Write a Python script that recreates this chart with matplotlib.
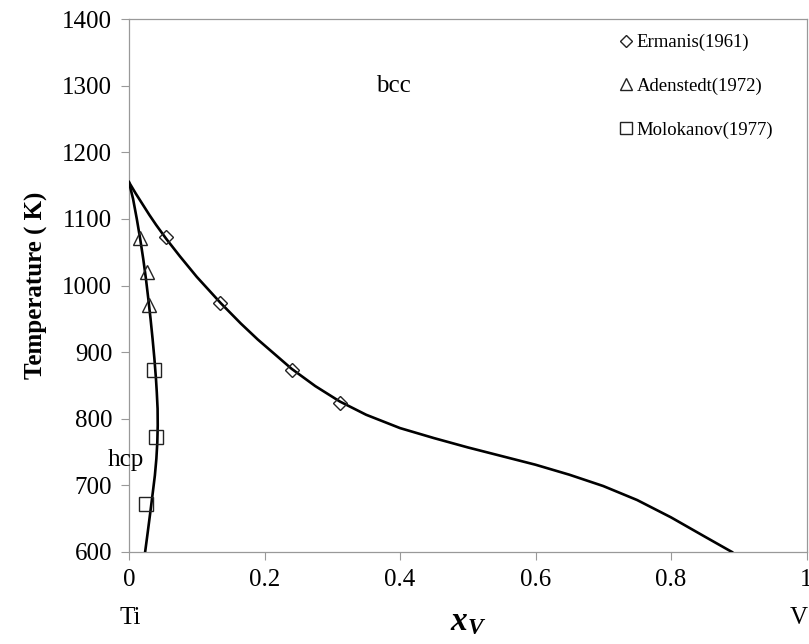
import matplotlib
matplotlib.use("Agg")
import matplotlib.pyplot as plt
from matplotlib.lines import Line2D

plt.rcParams['font.family'] = ['Liberation Serif', 'DejaVu Serif']
plt.rcParams['mathtext.fontset'] = 'custom'
plt.rcParams['mathtext.it'] = 'Liberation Serif:italic:bold'
plt.rcParams['mathtext.rm'] = 'Liberation Serif:bold'

# Data
ermanis_x = [0.055, 0.135, 0.240, 0.311]
ermanis_T = [1073, 973, 873, 823]
adenstedt_x = [0.016, 0.026, 0.030]
adenstedt_T = [1071, 1021, 971]
molokanov_x = [0.037, 0.040, 0.025]
molokanov_T = [873, 772, 672]

bcc_x = [0.0, 0.01, 0.02, 0.03, 0.04, 0.055, 0.075, 0.10, 0.135, 0.165, 0.19, 0.215, 0.24,
         0.275, 0.311, 0.35, 0.40, 0.45, 0.50, 0.55, 0.60, 0.65, 0.70, 0.75, 0.80, 0.85, 0.89]
bcc_T = [1155, 1138, 1122, 1106, 1091, 1070, 1044, 1013, 974, 943, 919, 897, 875,
         849, 826, 806, 786, 771, 757, 744, 731, 716, 699, 678, 652, 623, 600]
hcp_T = [1155, 1130, 1100, 1070, 1040, 1010, 980, 950, 920, 890, 860, 840, 815, 790,
         765, 740, 715, 690, 660, 630, 600]
hcp_x = [0.0, 0.006, 0.0115, 0.0165, 0.021, 0.025, 0.0285, 0.0318, 0.0348, 0.0375, 0.0398,
         0.041, 0.0422, 0.0424, 0.0418, 0.0404, 0.0382, 0.0352, 0.0315, 0.0277, 0.0238]

x_ticks = [0, 0.2, 0.4, 0.6, 0.8, 1.0]
x_ticklabels = ['0', '0.2', '0.4', '0.6', '0.8', '1']
y_ticks = [600, 700, 800, 900, 1000, 1100, 1200, 1300, 1400]

W, H = 809, 644
fig = plt.figure(figsize=(W / 100, H / 100), dpi=100)
ax = fig.add_axes([129 / W, 1 - 552 / H, (806.5 - 129) / W, (552 - 19) / H])

ax.plot(bcc_x, bcc_T, color='black', lw=1.9, zorder=3, solid_joinstyle='round')
ax.plot(hcp_x, hcp_T, color='black', lw=1.9, zorder=3, solid_joinstyle='round')

mec = '#222222'
ax.plot(ermanis_x, ermanis_T, linestyle='none', marker='D', ms=7, mfc='none', mec=mec, mew=1.0, zorder=4)
ax.plot(adenstedt_x, adenstedt_T, linestyle='none', marker='^', ms=10.5, mfc='none', mec=mec, mew=1.0, zorder=4)
ax.plot(molokanov_x, molokanov_T, linestyle='none', marker='s', ms=10, mfc='none', mec=mec, mew=1.0, zorder=4)

ax.set_xlim(0, 1)
ax.set_ylim(600, 1400)
ax.set_xticks(x_ticks)
ax.set_xticklabels(x_ticklabels)
ax.set_yticks(y_ticks)
ax.tick_params(axis='both', direction='out', length=6, width=0.8, color='#999999',
               labelsize=18, pad=6)
for s in ax.spines.values():
    s.set_color('#999999')
    s.set_linewidth(0.9)

ax.set_ylabel('Temperature ( K)', fontsize=18, fontweight='bold', labelpad=10)

ax.text(0.39, 1300, 'bcc', fontsize=18, ha='center', va='center')
ax.text(-0.005, 738, 'hcp', fontsize=18, ha='center', va='center', clip_on=False)

# composition end labels and x-label
fig.text(130 / W, 1 - 618 / H, 'Ti', fontsize=18, ha='center', va='center')
fig.text(799 / W, 1 - 618 / H, 'V', fontsize=18, ha='center', va='center')
fig.text(468 / W, 1 - 622 / H, r'$x_V$', fontsize=24, ha='center', va='center')

handles = [
    Line2D([], [], linestyle='none', marker='D', ms=6, mfc='none', mec=mec, mew=1.0),
    Line2D([], [], linestyle='none', marker='^', ms=8, mfc='none', mec=mec, mew=1.0),
    Line2D([], [], linestyle='none', marker='s', ms=9, mfc='none', mec=mec, mew=1.0),
]
labels = ['Ermanis(1961)', 'Adenstedt(1972)', 'Molokanov(1977)']
leg = ax.legend(handles, labels, loc='upper left', bbox_to_anchor=(606 / W, 1 - 21 / H),
                bbox_transform=fig.transFigure, frameon=False, fontsize=13.5,
                handlelength=0.7, handletextpad=0.25, labelspacing=1.4, borderpad=0.2)

fig.savefig('out.png', dpi=100)
